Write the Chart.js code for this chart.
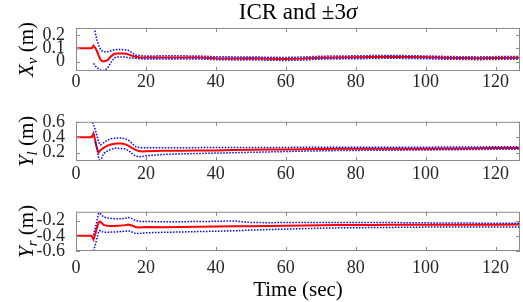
<!DOCTYPE html>
<html>
<head>
<meta charset="utf-8">
<script src="https://cdn.jsdelivr.net/npm/chart.js@4/dist/chart.umd.min.js"></script>
<style>
  body { margin: 0; background: #fff; }
  #wrap { position: relative; width: 523px; height: 302px; }
  canvas { position: absolute; left: 0; }
</style>
</head>
<body>
<div id="wrap">
  <canvas id="xvChart" width="523" height="100" style="top:0"></canvas>
  <canvas id="ylChart" width="523" height="100" style="top:100px"></canvas>
  <canvas id="yrChart" width="523" height="112" style="top:190px"></canvas>
</div>
<script>
// time stamps (sec)
const time = [0, 4.5, 5, 5.5, 6, 6.5, 7, 7.5, 8, 9, 10, 11, 12, 13, 14, 15, 16, 17, 18, 19, 20,
  25, 30, 35, 40, 45, 50, 55, 60, 65, 70, 75, 80, 85, 90, 95, 100, 105, 110, 115, 120, 127];

// X_v estimate and +/- 3 sigma bounds
const xvMean = [0.1, 0.1, 0.12, 0.105, 0.08, 0.045, 0.015, 0.003, 0.004, 0.01, 0.04, 0.06, 0.062, 0.062, 0.062, 0.055, 0.045, 0.037, 0.033, 0.032, 0.032,
  0.032, 0.032, 0.031, 0.026, 0.024, 0.025, 0.022, 0.02, 0.023, 0.03, 0.032, 0.033, 0.035, 0.037, 0.035, 0.033, 0.03, 0.027, 0.025, 0.027, 0.03];
const xvUpper = [null, null, 0.3, 0.22, 0.16, 0.12, 0.095, 0.08, 0.075, 0.074, 0.082, 0.09, 0.092, 0.091, 0.089, 0.085, 0.068, 0.05, 0.046, 0.044, 0.043,
  0.044, 0.044, 0.043, 0.037, 0.036, 0.036, 0.033, 0.032, 0.035, 0.041, 0.043, 0.044, 0.046, 0.047, 0.045, 0.043, 0.04, 0.037, 0.036, 0.038, 0.04];
const xvLower = [null, null, -0.013, -0.03, -0.045, -0.055, -0.062, -0.065, -0.066, -0.05, -0.005, 0.03, 0.036, 0.036, 0.035, 0.03, 0.027, 0.025, 0.022, 0.021, 0.021,
  0.021, 0.021, 0.02, 0.015, 0.013, 0.014, 0.011, 0.009, 0.012, 0.019, 0.021, 0.022, 0.024, 0.026, 0.024, 0.022, 0.019, 0.017, 0.015, 0.017, 0.019];

// Y_l
const ylMean = [0.4, 0.4, 0.448, 0.36, 0.25, 0.2, 0.23, 0.25, 0.265, 0.29, 0.305, 0.315, 0.318, 0.318, 0.31, 0.29, 0.26, 0.235, 0.22, 0.215, 0.218,
  0.222, 0.224, 0.226, 0.228, 0.232, 0.236, 0.238, 0.24, 0.243, 0.246, 0.248, 0.248, 0.248, 0.248, 0.249, 0.25, 0.252, 0.254, 0.256, 0.258, 0.26];
const ylUpper = [null, 0.63, 0.56, 0.5, 0.42, 0.33, 0.3, 0.315, 0.33, 0.36, 0.38, 0.385, 0.39, 0.39, 0.38, 0.36, 0.32, 0.28, 0.265, 0.262, 0.262,
  0.263, 0.264, 0.264, 0.265, 0.265, 0.266, 0.266, 0.267, 0.268, 0.268, 0.268, 0.268, 0.268, 0.268, 0.269, 0.27, 0.271, 0.272, 0.273, 0.274, 0.276];
const ylLower = [null, null, null, 0.34, 0.25, 0.12, 0.08, 0.15, 0.19, 0.22, 0.24, 0.255, 0.255, 0.252, 0.248, 0.225, 0.19, 0.155, 0.145, 0.15, 0.158,
  0.175, 0.183, 0.188, 0.193, 0.197, 0.203, 0.208, 0.213, 0.218, 0.222, 0.226, 0.228, 0.229, 0.23, 0.232, 0.234, 0.236, 0.238, 0.24, 0.242, 0.245];

// Y_r
const yrMean = [-0.4, -0.4, -0.45, -0.38, -0.29, -0.22, -0.215, -0.24, -0.26, -0.268, -0.27, -0.27, -0.268, -0.265, -0.26, -0.252, -0.265, -0.285, -0.29, -0.288, -0.286,
  -0.287, -0.284, -0.28, -0.278, -0.274, -0.276, -0.272, -0.268, -0.265, -0.262, -0.26, -0.258, -0.257, -0.256, -0.256, -0.255, -0.255, -0.254, -0.254, -0.254, -0.253];
const yrUpper = [null, null, -0.39, -0.3, -0.2, -0.1, -0.11, -0.135, -0.155, -0.165, -0.172, -0.176, -0.178, -0.176, -0.172, -0.16, -0.175, -0.2, -0.21, -0.212, -0.213,
  -0.215, -0.215, -0.213, -0.21, -0.205, -0.225, -0.228, -0.226, -0.225, -0.224, -0.224, -0.224, -0.226, -0.226, -0.228, -0.23, -0.232, -0.233, -0.234, -0.234, -0.234];
const yrLower = [null, null, -0.6, -0.52, -0.43, -0.34, -0.33, -0.345, -0.355, -0.355, -0.352, -0.35, -0.348, -0.345, -0.34, -0.335, -0.35, -0.37, -0.37, -0.365, -0.36,
  -0.355, -0.35, -0.345, -0.34, -0.335, -0.325, -0.318, -0.312, -0.306, -0.3, -0.296, -0.294, -0.292, -0.29, -0.288, -0.286, -0.285, -0.284, -0.284, -0.284, -0.284];

// tick labels
const xTicks = [0, 20, 40, 60, 80, 100, 120];
const xvTicks = [0, 0.1, 0.2];
const ylTicks = [0.2, 0.4, 0.6];
const yrTicks = [-0.6, -0.4, -0.2];

const serif = "'Liberation Serif', serif";
Chart.defaults.font.family = serif;
Chart.defaults.font.size = 18;
Chart.defaults.color = '#262626';

// draws a row of text pieces centred on (cx, cy), optionally rotated
function drawParts(ctx, parts, cx, cy, rotate) {
    ctx.save();
    ctx.translate(cx, cy);
    if (rotate) ctx.rotate(-Math.PI / 2);
    let total = 0;
    parts.forEach(p => {
        ctx.font = p.font;
        p.w = ctx.measureText(p.text).width;
        total += p.w;
    });
    let x = -total / 2;
    ctx.fillStyle = '#000';
    ctx.textBaseline = 'alphabetic';
    parts.forEach(p => {
        ctx.font = p.font;
        ctx.fillText(p.text, x, 7 + (p.dy || 0));
        x += p.w;
    });
    ctx.restore();
}

// box, inward ticks and labels
const framePlugin = {
    id: 'frame',
    afterDraw(chart, args, opts) {
        const { ctx, chartArea: a, scales } = chart;
        ctx.save();
        ctx.strokeStyle = '#8a8a8a';
        ctx.lineWidth = 1;
        ctx.strokeRect(a.left + 0.5, a.top + 0.5, a.right - a.left - 1, a.bottom - a.top - 1);
        ctx.beginPath();
        scales.x.ticks.forEach(t => {
            const px = Math.round(scales.x.getPixelForValue(t.value)) + 0.5;
            ctx.moveTo(px, a.top); ctx.lineTo(px, a.top + 4);
            ctx.moveTo(px, a.bottom); ctx.lineTo(px, a.bottom - 4);
        });
        scales.y.ticks.forEach(t => {
            const py = Math.round(scales.y.getPixelForValue(t.value)) + 0.5;
            ctx.moveTo(a.left, py); ctx.lineTo(a.left + 4, py);
            ctx.moveTo(a.right, py); ctx.lineTo(a.right - 4, py);
        });
        ctx.stroke();
        ctx.restore();

        // y label like X_v (m)
        drawParts(ctx, [
            { text: opts.sym, font: 'italic 21px ' + serif },
            { text: opts.sub, font: 'italic 15px ' + serif, dy: 4 },
            { text: ' (m)', font: '21px ' + serif }
        ], 26, (a.top + a.bottom) / 2, true);

        if (opts.title) {
            drawParts(ctx, [
                { text: 'ICR and \u00b13', font: '23px ' + serif },
                { text: '\u03c3', font: 'italic 23px ' + serif }
            ], (a.left + a.right) / 2, 12, false);
        }
        if (opts.xTitle) {
            drawParts(ctx, [{ text: 'Time (sec)', font: '21px ' + serif }], (a.left + a.right) / 2, 99, false);
        }
    }
};

function pts(vals) {
    return vals.map((v, i) => ({ x: time[i], y: v }));
}

function makeChart(id, mean, upper, lower, yTicks, yMin, yMax, padTop, axisH, xPad, frameOpts) {
    const ctx = document.getElementById(id).getContext('2d');
    const bound = data => ({
        data: pts(data),
        borderColor: '#0000ff',
        borderWidth: 1.5,
        borderDash: [1.5, 1.5],
        pointRadius: 0,
        clip: 0
    });
    const tickFont = { family: serif, size: 18 };
    return new Chart(ctx, {
        type: 'line',
        data: {
            datasets: [
                bound(upper),
                bound(lower),
                { data: pts(mean), borderColor: '#ff0000', borderWidth: 2, pointRadius: 0, clip: 0 }
            ]
        },
        options: {
            responsive: false,
            animation: false,
            layout: { padding: { top: padTop, right: 3, left: 0, bottom: 0 } },
            plugins: { legend: { display: false }, tooltip: { enabled: false }, frame: frameOpts },
            scales: {
                x: {
                    type: 'linear', min: 0, max: 127,
                    afterBuildTicks: s => { s.ticks = xTicks.map(v => ({ value: v })); },
                    afterFit: s => { s.height = axisH; },
                    grid: { display: false, drawTicks: false },
                    border: { display: false },
                    ticks: { padding: xPad, maxRotation: 0, autoSkip: false, font: tickFont }
                },
                y: {
                    min: yMin, max: yMax,
                    afterBuildTicks: s => { s.ticks = yTicks.map(v => ({ value: v })); },
                    afterFit: s => { s.width = 76; },
                    grid: { display: false, drawTicks: false },
                    border: { display: false },
                    ticks: { padding: 11, autoSkip: false, font: tickFont, callback: v => String(v) }
                }
            }
        },
        plugins: [framePlugin]
    });
}

makeChart('xvChart', xvMean, xvUpper, xvLower, xvTicks, -0.07, 0.253, 28, 29, 0, { sym: 'X', sub: 'v', title: true });
makeChart('ylChart', ylMean, ylUpper, ylLower, ylTicks, 0.09, 0.6, 19, 39, 2, { sym: 'Y', sub: 'l' });
makeChart('yrChart', yrMean, yrUpper, yrLower, yrTicks, -0.6, -0.085, 19, 51, 6, { sym: 'Y', sub: 'r', xTitle: true });
</script>
</body>
</html>
